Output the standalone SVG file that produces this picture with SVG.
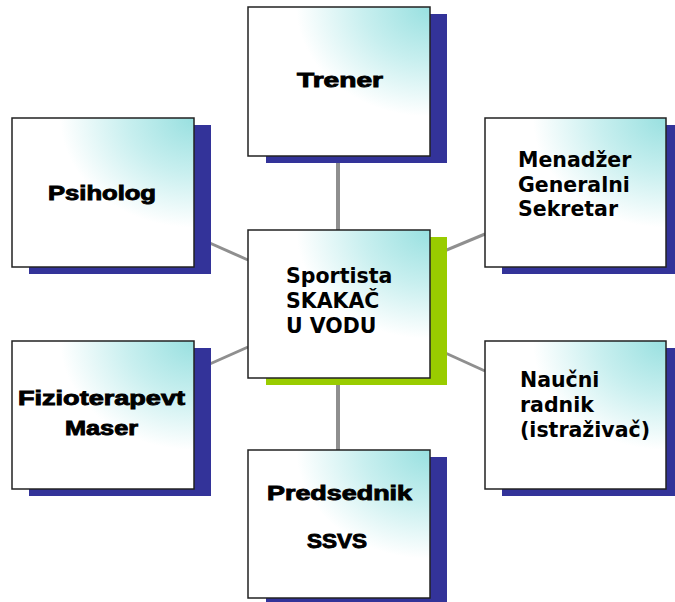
<svg xmlns="http://www.w3.org/2000/svg" width="675" height="602" viewBox="0 0 675 602">
  <defs>
    <radialGradient id="boxfill" cx="1" cy="0" r="1.05" fx="1" fy="0">
      <stop offset="0" stop-color="#98e0e0"/>
      <stop offset="0.35" stop-color="#c8efef"/>
      <stop offset="0.7" stop-color="#ffffff"/>
    </radialGradient>
    <style>
      .shadow { fill: #333399; }
      .shadow-green { fill: #99cc00; }
      .box { fill: url(#boxfill); stroke: #222222; stroke-width: 1.5; }
      .conn { stroke: #8f8f8f; fill: none; }
      .heavy { font-family: "Liberation Sans", Arial, sans-serif; font-weight: bold; font-size: 20px; fill: #000; stroke: #000; stroke-width: 0.9; }
      .verd { font-family: "DejaVu Sans", Verdana, sans-serif; font-weight: bold; font-size: 20.5px; fill: #000; }
    </style>
  </defs>
  <rect width="675" height="602" fill="#ffffff"/>

  <g id="connectors">
    <line class="conn" x1="338" y1="156" x2="338" y2="230" stroke-width="4"/>
    <line class="conn" x1="338" y1="378" x2="338" y2="450" stroke-width="4"/>
    <line class="conn" x1="194" y1="236" x2="248" y2="260" stroke-width="3"/>
    <line class="conn" x1="430" y1="257" x2="485" y2="234" stroke-width="3"/>
    <line class="conn" x1="194" y1="371" x2="248" y2="347" stroke-width="3"/>
    <line class="conn" x1="430" y1="346" x2="485" y2="371" stroke-width="3"/>
  </g>

  <g id="trener">
    <rect class="shadow" x="266" y="14" width="181" height="149"/>
    <rect class="box" x="248" y="7" width="182" height="149"/>
    <text class="heavy" x="297" y="87" textLength="86" lengthAdjust="spacingAndGlyphs">Trener</text>
  </g>

  <g id="psiholog">
    <rect class="shadow" x="29" y="125" width="182" height="149"/>
    <rect class="box" x="12" y="118" width="182" height="149"/>
    <text class="heavy" x="48" y="200" textLength="108" lengthAdjust="spacingAndGlyphs">Psiholog</text>
  </g>

  <g id="menadzer">
    <rect class="shadow" x="502" y="125" width="181" height="149"/>
    <rect class="box" x="485" y="118" width="181" height="149"/>
    <text class="verd" x="518" y="167">Menadžer</text>
    <text class="verd" x="518" y="192">Generalni</text>
    <text class="verd" x="518" y="216">Sekretar</text>
  </g>

  <g id="sportista">
    <rect class="shadow-green" x="266" y="237" width="181" height="148"/>
    <rect class="box" x="248" y="230" width="182" height="148"/>
    <text class="verd" x="286" y="283">Sportista</text>
    <text class="verd" x="286" y="308">SKAKAČ</text>
    <text class="verd" x="286" y="333">U VODU</text>
  </g>

  <g id="fizioterapevt">
    <rect class="shadow" x="29" y="348" width="182" height="148"/>
    <rect class="box" x="12" y="341" width="182" height="148"/>
    <text class="heavy" x="18" y="405" textLength="167" lengthAdjust="spacingAndGlyphs">Fizioterapevt</text>
    <text class="heavy" x="65" y="435" textLength="73" lengthAdjust="spacingAndGlyphs">Maser</text>
  </g>

  <g id="naucni">
    <rect class="shadow" x="502" y="348" width="181" height="148"/>
    <rect class="box" x="485" y="341" width="181" height="148"/>
    <text class="verd" x="520" y="387">Naučni</text>
    <text class="verd" x="520" y="412">radnik</text>
    <text class="verd" x="520" y="437">(istraživač)</text>
  </g>

  <g id="predsednik">
    <rect class="shadow" x="266" y="457" width="181" height="148"/>
    <rect class="box" x="248" y="450" width="182" height="148"/>
    <text class="heavy" x="267" y="500" textLength="145" lengthAdjust="spacingAndGlyphs">Predsednik</text>
    <text class="heavy" x="307" y="548" textLength="60" lengthAdjust="spacingAndGlyphs">SSVS</text>
  </g>
</svg>
